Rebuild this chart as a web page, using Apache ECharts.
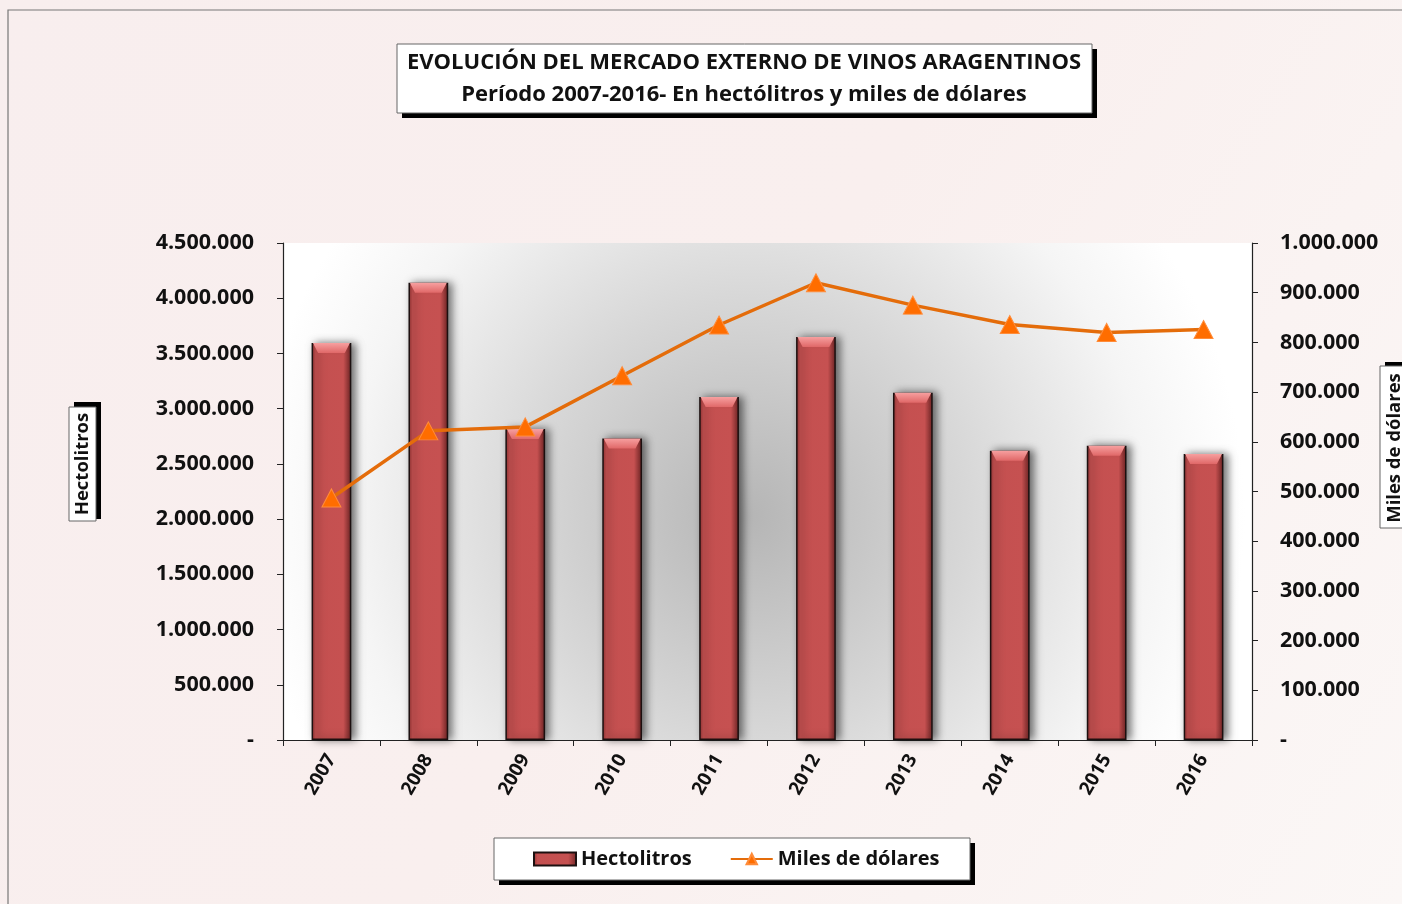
<!DOCTYPE html>
<html><head><meta charset="utf-8">
<script src="https://cdn.jsdelivr.net/npm/echarts@6/dist/echarts.min.js"></script>
<style>html,body{margin:0;padding:0;background:#fff}#c{width:1402px;height:904px}</style>
</head><body><div id="c"></div>
<script>
const years = ['2007','2008','2009','2010','2011','2012','2013','2014','2015','2016'];
const hectolitros = [3595000,4140000,2815000,2730000,3105000,3650000,3145000,2620000,2665000,2590000];
const milesDolares = [487000,622000,630000,733000,835000,920000,875000,836000,820000,826000];
const titleLine1 = 'EVOLUCIÓN DEL MERCADO EXTERNO DE VINOS ARAGENTINOS';
const titleLine2 = 'Período 2007-2016- En hectólitros y miles de dólares';
const leftName = 'Hectolitros';
const rightName = 'Miles de dólares';

const FONT = '"Open Sans", "DejaVu Sans", sans-serif';
function fmt(v){ if(v===0) return '-'; return String(Math.round(v)).replace(/\B(?=(\d{3})+(?!\d))/g,'.'); }

const chart = echarts.init(document.getElementById('c'), null, {renderer:'canvas'});
const option = {
  animation:false,
  backgroundColor:{type:'linear',x:0,y:0,x2:1,y2:1,colorStops:[{offset:0,color:'#f8eeee'},{offset:0.5,color:'#f9efee'},{offset:1,color:'#fbf7f6'}]},
  grid:{left:283,right:150,top:243,bottom:164,show:true,borderWidth:0,
    backgroundColor:{type:'radial',x:0.48,y:0.55,r:1.0,colorStops:[{offset:0,color:'#b5b5b5'},{offset:0.45,color:'#d8d8d8'},{offset:0.8,color:'#f5f5f5'},{offset:1,color:'#ffffff'}]}},
  legend:{
    left:533, top:849,
    itemGap:38, itemWidth:42, itemHeight:13,
    padding:0,
    textStyle:{fontFamily:FONT,fontWeight:'bold',fontSize:20,color:'#111'},
    data:[{name:leftName,icon:'rect'},{name:rightName}]
  },
  xAxis:{type:'category',data:years,
    axisLine:{lineStyle:{color:'#222',width:1.2}},
    axisTick:{show:true,inside:false,length:6,lineStyle:{color:'#222'}},
    axisLabel:{rotate:60,margin:16,fontFamily:FONT,fontWeight:'bold',fontSize:19,color:'#111'}
  },
  yAxis:[
    {type:'value',min:0,max:4500000,interval:500000,position:'left',
     axisLine:{show:true,lineStyle:{color:'#222',width:1.2}},
     axisTick:{show:true,length:6,lineStyle:{color:'#222'}},
     splitLine:{show:false},
     axisLabel:{formatter:fmt,margin:29,fontFamily:FONT,fontWeight:'bold',fontSize:21.5,color:'#111'}},
    {type:'value',min:0,max:1000000,interval:100000,position:'right',
     axisLine:{show:true,lineStyle:{color:'#222',width:1.2}},
     axisTick:{show:true,length:6,lineStyle:{color:'#222'}},
     splitLine:{show:false},
     axisLabel:{formatter:fmt,margin:28,fontFamily:FONT,fontWeight:'bold',fontSize:21.5,color:'#111'}}
  ],
  series:[
    {name:leftName,type:'bar',yAxisIndex:0,data:hectolitros,barWidth:'41%',
     itemStyle:{
       color:{type:'linear',x:0,y:0,x2:1,y2:0,colorStops:[{offset:0,color:'#8e3232'},{offset:0.1,color:'#c45050'},{offset:0.8,color:'#c65151'},{offset:1,color:'#6e2424'}]},
       borderColor:'#1c1010',borderWidth:1.5,
       shadowColor:'rgba(0,0,0,0.55)',shadowBlur:8,shadowOffsetX:4,shadowOffsetY:0}},
    {name:leftName+' top',type:'pictorialBar',yAxisIndex:0,data:hectolitros,
     symbol:'path://M0,0 L10,0 L8.6,3 L1.4,3 Z',symbolSize:[37,10],symbolPosition:'end',symbolOffset:[0,0],
     itemStyle:{color:{type:'linear',x:0,y:0,x2:0,y2:1,colorStops:[{offset:0,color:'#f7a0a0'},{offset:1,color:'#e06868'}]}},z:3,silent:true,legendHoverLink:false},
    {name:rightName,type:'line',yAxisIndex:1,data:milesDolares,
     lineStyle:{color:'#e46c0a',width:3.5},
     itemStyle:{color:'#ff6d00',borderColor:'#ff8c3a',borderWidth:1},
     symbol:'triangle',symbolSize:[19,18],z:5}
  ],
  graphic:[
    {type:'rect',shape:{x:8,y:10,width:1400,height:900},style:{fill:'none',stroke:'#777',lineWidth:1.2},silent:true,z:-1},
    {type:'rect',shape:{x:402,y:49,width:695,height:69},style:{fill:'#000'},z:10},
    {type:'rect',shape:{x:397,y:44,width:695,height:69},style:{fill:'#fff',stroke:'#666',lineWidth:1},z:11},
    {type:'text',x:744,y:63,style:{text:titleLine1,fontFamily:FONT,fontWeight:'bold',fontSize:22,fill:'#111',align:'center',verticalAlign:'middle'},z:12},
    {type:'text',x:744,y:95,style:{text:titleLine2,fontFamily:FONT,fontWeight:'bold',fontSize:22,fill:'#111',align:'center',verticalAlign:'middle'},z:12},
    {type:'rect',shape:{x:499,y:843,width:476,height:42},style:{fill:'#000'},z:-1,silent:true},
    {type:'rect',shape:{x:494,y:838,width:476,height:42},style:{fill:'#fff',stroke:'#666',lineWidth:1},z:-1,silent:true},
    {type:'rect',shape:{x:74,y:402,width:27,height:117},style:{fill:'#000'},z:10},
    {type:'rect',shape:{x:69,y:407,width:27,height:114},style:{fill:'#fff',stroke:'#666',lineWidth:1},z:11},
    {type:'text',x:83,y:464,rotation:Math.PI/2,style:{text:leftName,fontFamily:FONT,fontWeight:'bold',fontSize:18.5,fill:'#111',align:'center',verticalAlign:'middle'},z:12},
    {type:'rect',shape:{x:1385,y:362,width:30,height:165},style:{fill:'#000'},z:10},
    {type:'rect',shape:{x:1380,y:366,width:30,height:162},style:{fill:'#fff',stroke:'#666',lineWidth:1},z:11},
    {type:'text',x:1395,y:448,rotation:Math.PI/2,style:{text:rightName,fontFamily:FONT,fontWeight:'bold',fontSize:18.5,fill:'#111',align:'center',verticalAlign:'middle'},z:12}
  ]
};
chart.setOption(option);
</script></body></html>
